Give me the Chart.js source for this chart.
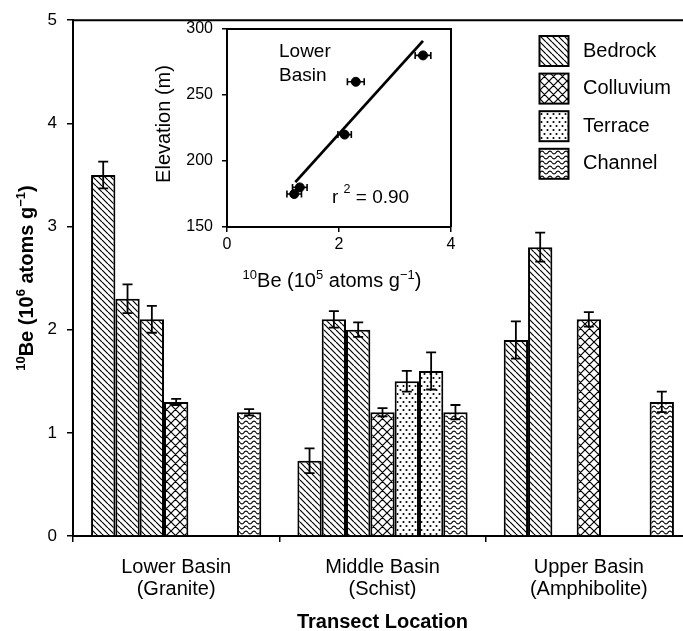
<!DOCTYPE html>
<html>
<head>
<meta charset="utf-8">
<script src="https://cdn.jsdelivr.net/npm/chart.js@4/dist/chart.umd.min.js"></script>
<style>
html,body{margin:0;padding:0;background:#fff;overflow:hidden;width:683px;height:631px}
#wrap{position:relative;width:683px;height:631px;overflow:hidden}
#main{position:absolute;left:0;top:0}
#inset{position:absolute;left:140px;top:10px}
</style>
</head>
<body>
<div id="wrap">
  <canvas id="main" width="700" height="631"></canvas>
  <canvas id="inset" width="330" height="290"></canvas>
</div>
<script>
const FONT = "'Liberation Sans', Arial, Helvetica, sans-serif";

// main chart: 3 transects, 7 bar slots per transect (null = empty slot)
const groups = [['Lower Basin', '(Granite)'], ['Middle Basin', '(Schist)'], ['Upper Basin', '(Amphibolite)']];
const slotType = ['Bedrock', 'Bedrock', 'Bedrock', 'Colluvium', 'Terrace', 'Terrace', 'Channel'];
const slotValues = [
  [3.5, 0.73, 1.9],
  [2.3, 2.1, 2.8],
  [2.1, 2.0, null],
  [1.3, 1.2, 2.1],
  [null, 1.5, null],
  [null, 1.6, null],
  [1.2, 1.2, 1.3]
];
const slotErrors = [
  [0.13, 0.12, 0.18],
  [0.14, 0.08, 0.14],
  [0.13, 0.07, null],
  [0.03, 0.04, 0.07],
  [null, 0.10, null],
  [null, 0.18, null],
  [0.03, 0.07, 0.10]
];
const legendNames = ['Bedrock', 'Colluvium', 'Terrace', 'Channel'];
const yMin = 0, yMax = 5, yStep = 1;

// inset: elevation vs 10Be, Lower Basin
const beConc = [1.2, 1.3, 2.1, 2.3, 3.5];
const beErr = [0.13, 0.13, 0.12, 0.15, 0.14];
const elevation = [175, 180, 220, 260, 280];
const fitX = [1.22, 3.5];
const fitY = [184, 291];

function makePattern(kind){
  const c = document.createElement('canvas');
  const sz = {Bedrock:[6,6], Colluvium:[9,9], Terrace:[6,8], Channel:[8,4.5]}[kind];
  c.width = sz[0]; c.height = Math.round(sz[1]);
  const g = c.getContext('2d');
  g.fillStyle = '#fff'; g.fillRect(0, 0, c.width, c.height);
  g.strokeStyle = '#000'; g.fillStyle = '#000'; g.lineWidth = 1.2;
  const w = c.width, h = c.height;
  g.beginPath();
  if (kind === 'Bedrock' || kind === 'Colluvium'){
    for (const k of [-w, 0, w]){
      g.moveTo(k, 0); g.lineTo(k + w, h);
      if (kind === 'Colluvium'){ g.moveTo(k + w, 0); g.lineTo(k, h); }
    }
    g.stroke();
  } else if (kind === 'Terrace'){
    g.arc(1.5, 2, 1.05, 0, Math.PI*2);
    g.moveTo(5.55, 6); g.arc(4.5, 6, 1.05, 0, Math.PI*2);
    g.fill();
  } else {
    g.lineWidth = 1.1;
    for (let x = 0; x <= w; x += 0.5){
      const y = h/2 + 1.4*Math.sin(x/w*Math.PI*2);
      x === 0 ? g.moveTo(x, y) : g.lineTo(x, y);
    }
    g.stroke();
  }
  return g.createPattern(c, 'repeat');
}
const patterns = {};
legendNames.forEach(n => patterns[n] = makePattern(n));

// text with superscripts: parts = [[text, isSup], ...]
function drawRich(ctx, parts, x, y, size, bold){
  const f = s => (bold ? 'bold ' : '') + s + 'px ' + FONT;
  let total = 0;
  parts.forEach(([t, sup]) => { ctx.font = f(sup ? size*0.65 : size); total += ctx.measureText(t).width; });
  let cx = x - total/2;
  ctx.textBaseline = 'alphabetic'; ctx.textAlign = 'left'; ctx.fillStyle = '#000';
  parts.forEach(([t, sup]) => {
    ctx.font = f(sup ? size*0.65 : size);
    ctx.fillText(t, cx, y + size*0.36 - (sup ? size*0.42 : 0));
    cx += ctx.measureText(t).width;
  });
}

const mainDecor = {
  id: 'mainDecor',
  afterDatasetsDraw(chart){
    const ctx = chart.ctx, ys = chart.scales.y;
    ctx.save();
    ctx.strokeStyle = '#000'; ctx.lineWidth = 1.8;
    slotValues.forEach((vals, i) => {
      chart.getDatasetMeta(i).data.forEach((bar, j) => {
        const v = vals[j], e = slotErrors[i][j];
        if (v == null) return;
        const t = ys.getPixelForValue(v + e), b = ys.getPixelForValue(v - e);
        ctx.beginPath();
        ctx.moveTo(bar.x, t); ctx.lineTo(bar.x, b);
        ctx.moveTo(bar.x - 5, t); ctx.lineTo(bar.x + 5, t);
        ctx.moveTo(bar.x - 5, b); ctx.lineTo(bar.x + 5, b);
        ctx.stroke();
      });
    });
    ctx.restore();
  },
  afterDraw(chart){
    const ctx = chart.ctx, a = chart.chartArea;
    ctx.save();
    ctx.strokeStyle = '#000'; ctx.lineWidth = 2;
    ctx.beginPath();
    ctx.moveTo(a.left, a.top); ctx.lineTo(a.right, a.top); ctx.lineTo(a.right, a.bottom);
    ctx.stroke();
    // legend
    legendNames.forEach((n, i) => {
      const bx = 539.5, by = 36 + i*37.6;
      ctx.fillStyle = patterns[n]; ctx.fillRect(bx, by, 29, 30);
      ctx.lineWidth = 2; ctx.strokeRect(bx, by, 29, 30);
      ctx.fillStyle = '#000'; ctx.font = '20px ' + FONT;
      ctx.textAlign = 'left'; ctx.textBaseline = 'middle';
      ctx.fillText(n, 583, by + 15);
    });
    // axis titles
    ctx.font = 'bold 20px ' + FONT; ctx.textAlign = 'center'; ctx.textBaseline = 'middle';
    ctx.fillText('Transect Location', (a.left + a.right)/2, 622);
    ctx.translate(26, (a.top + a.bottom)/2);
    ctx.rotate(-Math.PI/2);
    drawRich(ctx, [['10', 1], ['Be (10', 0], ['6', 1], [' atoms g', 0], ['\u22121', 1], [')', 0]], 0, 0, 20, true);
    ctx.restore();
  }
};

new Chart(document.getElementById('main'), {
  type: 'bar',
  data: {
    labels: groups,
    datasets: slotValues.map((vals, i) => ({
      label: slotType[i],
      data: vals,
      backgroundColor: patterns[slotType[i]],
      borderColor: '#000',
      borderWidth: 2,
      barPercentage: 1,
      categoryPercentage: 0.825
    }))
  },
  options: {
    responsive: false, animation: false, events: [],
    layout: { padding: { top: 19, right: 8, left: 0, bottom: 0 } },
    plugins: { legend: { display: false }, tooltip: { enabled: false } },
    scales: {
      x: {
        offset: true,
        grid: { offset: true, drawOnChartArea: false, color: '#000', lineWidth: 1.5, tickLength: 6 },
        border: { display: true, color: '#000', width: 2 },
        ticks: { color: '#000', font: { family: FONT, size: 20, lineHeight: 1.08 }, padding: 15, maxRotation: 0, autoSkip: false },
        afterFit: s => { s.height = 95; }
      },
      y: {
        min: yMin, max: yMax,
        grid: { drawOnChartArea: false, color: '#000', lineWidth: 1.5, tickLength: 6 },
        border: { display: true, color: '#000', width: 2 },
        ticks: { stepSize: yStep, color: '#000', font: { family: FONT, size: 17 }, padding: 10 },
        afterFit: s => { s.width = 73; }
      }
    }
  },
  plugins: [mainDecor]
});

const insetDecor = {
  id: 'insetDecor',
  afterDatasetsDraw(chart){
    const ctx = chart.ctx, xs = chart.scales.x, ys = chart.scales.y;
    ctx.save();
    ctx.strokeStyle = '#000'; ctx.lineWidth = 1.6;
    beConc.forEach((v, i) => {
      const l = xs.getPixelForValue(v - beErr[i]), r = xs.getPixelForValue(v + beErr[i]);
      const y = ys.getPixelForValue(elevation[i]);
      ctx.beginPath();
      ctx.moveTo(l, y); ctx.lineTo(r, y);
      ctx.moveTo(l, y - 3.5); ctx.lineTo(l, y + 3.5);
      ctx.moveTo(r, y - 3.5); ctx.lineTo(r, y + 3.5);
      ctx.stroke();
    });
    ctx.restore();
  },
  afterDraw(chart){
    const ctx = chart.ctx, a = chart.chartArea;
    ctx.save();
    ctx.strokeStyle = '#000'; ctx.lineWidth = 2;
    ctx.beginPath();
    ctx.moveTo(a.left, a.top); ctx.lineTo(a.right, a.top); ctx.lineTo(a.right, a.bottom);
    ctx.stroke();
    ctx.fillStyle = '#000'; ctx.font = '19px ' + FONT;
    ctx.textAlign = 'left'; ctx.textBaseline = 'middle';
    ctx.fillText('Lower', a.left + 52, a.top + 23);
    ctx.fillText('Basin', a.left + 52, a.top + 47);
    // r^2 label
    let x = a.left + 105;
    const y = a.top + 169;
    [['r ', 0], ['2', 1], [' = 0.90', 0]].forEach(([t, sup]) => {
      ctx.font = (sup ? 12.5 : 19) + 'px ' + FONT;
      ctx.fillText(t, x, sup ? y - 8 : y);
      x += ctx.measureText(t).width;
    });
    drawRich(ctx, [['10', 1], ['Be (10', 0], ['5', 1], [' atoms g', 0], ['\u22121', 1], [')', 0]], (a.left + a.right)/2 - 7, 270, 20, false);
    ctx.translate(24, (a.top + a.bottom)/2 - 4);
    ctx.rotate(-Math.PI/2);
    ctx.font = '20px ' + FONT; ctx.textAlign = 'center'; ctx.textBaseline = 'middle';
    ctx.fillText('Elevation (m)', 0, 0);
    ctx.restore();
  }
};

new Chart(document.getElementById('inset'), {
  type: 'scatter',
  data: {
    datasets: [
      {
        data: beConc.map((v, i) => ({ x: v, y: elevation[i] })),
        pointRadius: 4.5, pointBackgroundColor: '#000', pointBorderColor: '#000', showLine: false
      },
      {
        data: fitX.map((v, i) => ({ x: v, y: fitY[i] })),
        showLine: true, pointRadius: 0, borderColor: '#000', borderWidth: 2.8
      }
    ]
  },
  options: {
    responsive: false, animation: false, events: [],
    layout: { padding: { top: 19, right: 19, left: 0, bottom: 0 } },
    plugins: { legend: { display: false }, tooltip: { enabled: false } },
    scales: {
      x: {
        type: 'linear', min: 0, max: 4,
        grid: { drawOnChartArea: false, color: '#000', lineWidth: 1.5, tickLength: 5 },
        border: { display: true, color: '#000', width: 2 },
        ticks: { stepSize: 2, color: '#000', font: { family: FONT, size: 16 }, padding: 3 },
        afterFit: s => { s.height = 73; }
      },
      y: {
        min: 150, max: 300,
        grid: { drawOnChartArea: false, color: '#000', lineWidth: 1.5, tickLength: 5 },
        border: { display: true, color: '#000', width: 2 },
        ticks: { stepSize: 50, color: '#000', font: { family: FONT, size: 16 }, padding: 9 },
        afterFit: s => { s.width = 87; }
      }
    }
  },
  plugins: [insetDecor]
});
</script>
</body>
</html>
